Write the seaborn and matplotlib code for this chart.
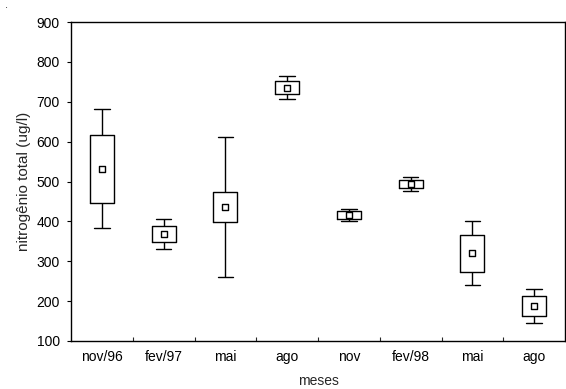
import matplotlib
matplotlib.use("Agg")
import matplotlib.pyplot as plt
import seaborn as sns
import pandas as pd
from matplotlib.ticker import FixedLocator

# Data
categories = ["nov/96", "fev/97", "mai/97", "ago/97", "nov/97", "fev/98", "mai/98", "ago/98"]
tick_labels = ["nov/96", "fev/97", "mai", "ago", "nov", "fev/98", "mai", "ago"]
means    = [532, 368, 436, 734, 417, 494, 320, 187]
box_lo   = [446, 348, 398, 720, 407, 483, 272, 163]
box_hi   = [617, 389, 474, 751, 426, 504, 367, 213]
whisk_lo = [384, 331, 261, 706, 401, 477, 240, 145]
whisk_hi = [681, 405, 612, 765, 432, 512, 400, 231]

sns.set_style("white")
plt.rcParams["font.family"] = ["Liberation Sans", "DejaVu Sans"]

rows = []
for c, wl, bl, m, bh, wh in zip(categories, whisk_lo, box_lo, means, box_hi, whisk_hi):
    for v in (wl, bl, m, bh, wh):
        rows.append({"mes": c, "valor": v})
df = pd.DataFrame(rows)
dfm = pd.DataFrame({"mes": categories, "media": means})

fig = plt.figure(figsize=(5.66, 3.89), dpi=100)
ax = fig.add_axes([71/566, 1-341/389, (565-71)/566, (341-22)/389])

sns.boxplot(data=df, x="mes", y="valor", order=categories, ax=ax,
            whis=(0, 100), width=0.39, fill=False, color="black", linewidth=1.0,
            medianprops={"visible": False}, showfliers=False, capwidths=0.25)
sns.scatterplot(data=dfm, x="mes", y="media", ax=ax, marker="s", s=20,
                facecolor="white", edgecolor="black", linewidth=1.0, zorder=5)

ax.set_xlim(-0.5, 7.5)
ax.set_ylim(100, 900)
ax.set_yticks([100, 200, 300, 400, 500, 600, 700, 800, 900])
ax.set_xticks(range(len(categories)))
ax.set_xticklabels(tick_labels)
ax.xaxis.set_minor_locator(FixedLocator([i + 0.5 for i in range(7)]))
ax.tick_params(axis="x", which="major", length=0, labelsize=10, pad=6.5, colors="black")
ax.tick_params(axis="x", which="minor", direction="in", length=3, width=0.8, bottom=True)
ax.tick_params(axis="y", which="major", direction="out", length=3, width=0.8, left=True,
               labelsize=10, pad=5, colors="black")
ax.set_xlabel("meses", fontsize=10, labelpad=7.5)
ax.set_ylabel("nitrogênio total (ug/l)", fontsize=11, labelpad=4)
for sp in ax.spines.values():
    sp.set_visible(True)
    sp.set_color("black")
    sp.set_linewidth(1.0)

fig.text(0.008, 0.98, ".", fontsize=8)
fig.savefig("out.png", dpi=100)
